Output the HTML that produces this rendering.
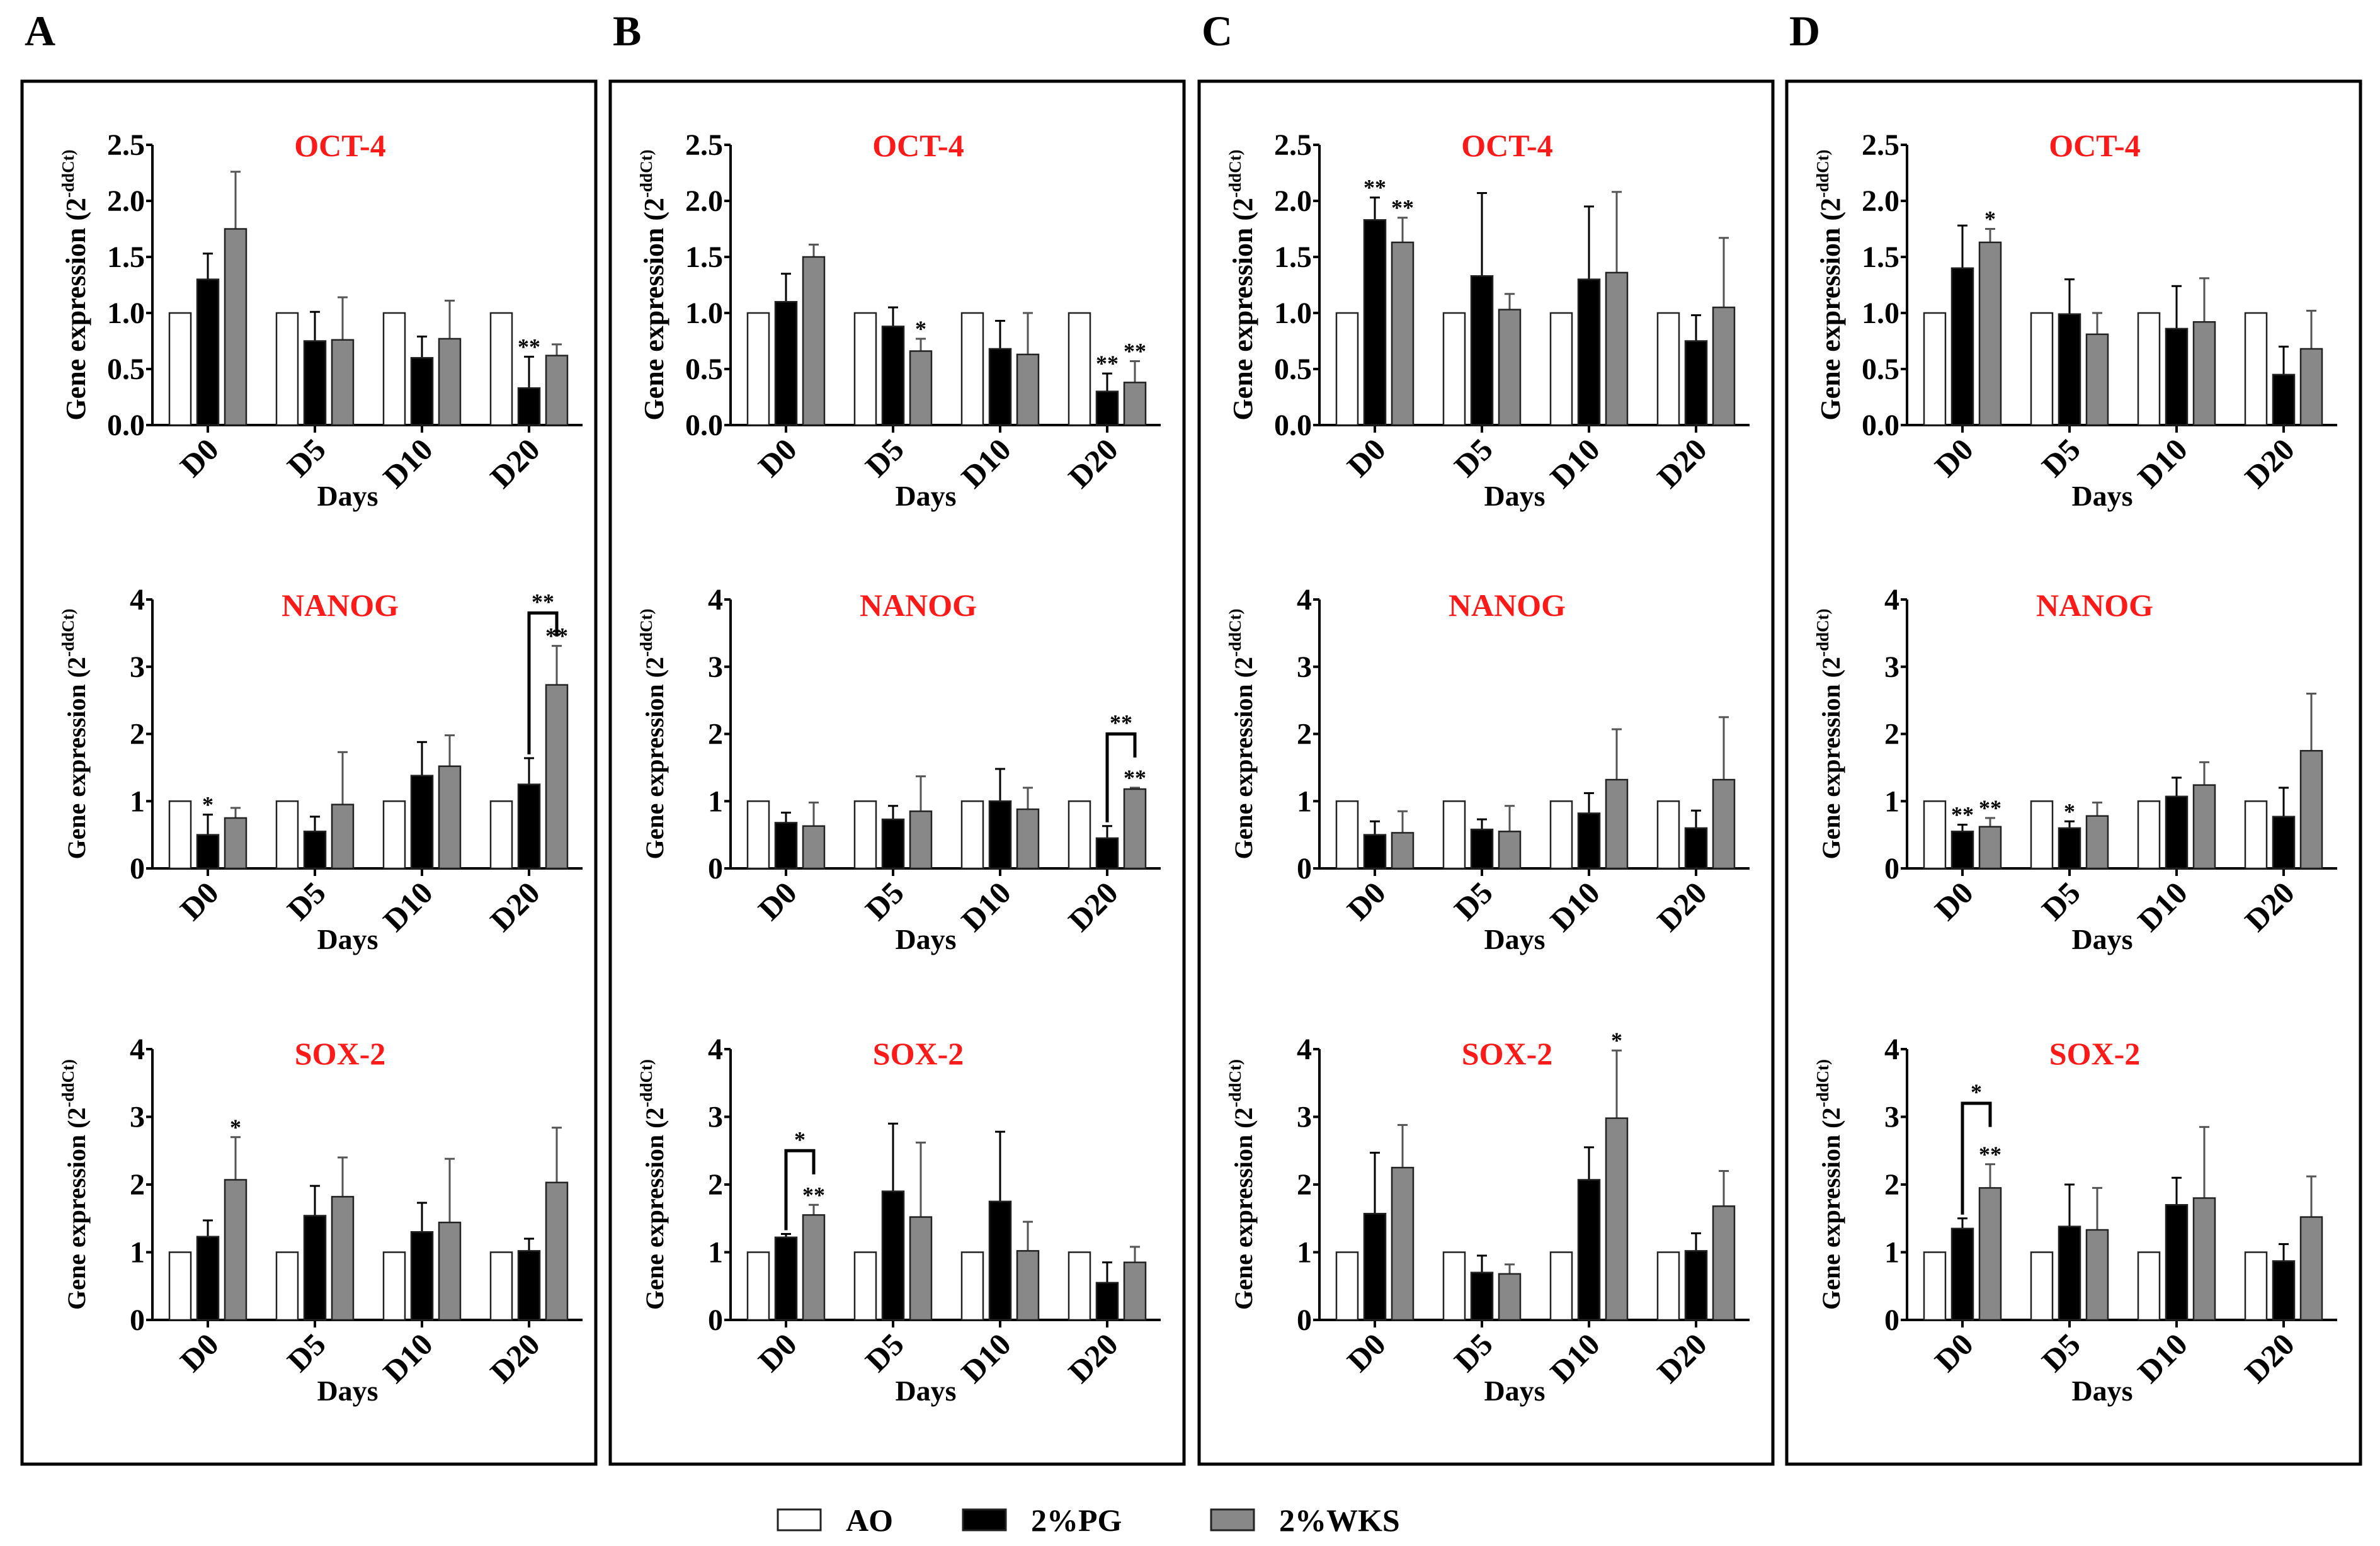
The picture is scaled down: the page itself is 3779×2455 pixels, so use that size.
<!DOCTYPE html>
<html><head><meta charset="utf-8"><style>
html,body{margin:0;padding:0;background:#fff;}
svg{display:block;font-family:"Liberation Serif",serif;font-weight:bold;}
</style></head><body>
<svg id="fig" width="3779" height="2455" viewBox="0 0 3779 2455" xmlns="http://www.w3.org/2000/svg"></svg>
<script>
const categories = ["D0","D5","D10","D20"];
const panelLetters = ["A","B","C","D"];
const genes = ["OCT-4","NANOG","SOX-2"];
const yMaxes = [2.5,4,4];
const oct4Ticks = ["0.0","0.5","1.0","1.5","2.0","2.5"];
const otherTicks = ["0","1","2","3","4"];
const aoValues = [1,1,1,1];
// [panel][gene] values
const pgValues = [
 [[1.3,0.75,0.6,0.33],[0.5,0.55,1.38,1.25],[1.23,1.54,1.3,1.02]],
 [[1.1,0.88,0.68,0.3],[0.68,0.73,1.0,0.45],[1.22,1.9,1.75,0.55]],
 [[1.83,1.33,1.3,0.75],[0.5,0.58,0.82,0.6],[1.57,0.7,2.07,1.02]],
 [[1.4,0.99,0.86,0.45],[0.55,0.6,1.07,0.77],[1.35,1.38,1.7,0.87]]
];
const pgErrTop = [
 [[1.53,1.01,0.79,0.61],[0.8,0.77,1.88,1.64],[1.47,1.98,1.73,1.2]],
 [[1.35,1.05,0.93,0.46],[0.83,0.93,1.48,0.63],[1.27,2.9,2.78,0.85]],
 [[2.03,2.07,1.95,0.98],[0.7,0.73,1.12,0.86],[2.47,0.95,2.55,1.28]],
 [[1.78,1.3,1.24,0.7],[0.65,0.7,1.35,1.2],[1.5,2.0,2.1,1.12]]
];
const wksValues = [
 [[1.75,0.76,0.77,0.62],[0.75,0.95,1.52,2.73],[2.07,1.82,1.44,2.03]],
 [[1.5,0.66,0.63,0.38],[0.63,0.85,0.88,1.18],[1.55,1.52,1.02,0.85]],
 [[1.63,1.03,1.36,1.05],[0.53,0.55,1.32,1.32],[2.25,0.68,2.98,1.68]],
 [[1.63,0.81,0.92,0.68],[0.62,0.78,1.24,1.75],[1.95,1.33,1.8,1.52]]
];
const wksErrTop = [
 [[2.26,1.14,1.11,0.72],[0.9,1.73,1.98,3.31],[2.7,2.4,2.38,2.84]],
 [[1.61,0.77,1.0,0.57],[0.98,1.37,1.2,1.2],[1.7,2.62,1.45,1.08]],
 [[1.85,1.17,2.08,1.67],[0.85,0.93,2.07,2.25],[2.88,0.82,3.98,2.2]],
 [[1.75,1.0,1.31,1.02],[0.75,0.98,1.58,2.6],[2.3,1.95,2.85,2.12]]
];
// significance marks: [panel, gene, category, series(1=PG,2=WKS), label]
const stars = [
 [0,0,3,1,"**"],[0,1,0,1,"*"],[0,1,3,2,"**"],[0,2,0,2,"*"],
 [1,0,1,2,"*"],[1,0,3,1,"**"],[1,0,3,2,"**"],[1,1,3,2,"**"],[1,2,0,2,"**"],
 [2,0,0,1,"**"],[2,0,0,2,"**"],[2,2,2,2,"*"],
 [3,0,0,2,"*"],[3,1,0,1,"**"],[3,1,0,2,"**"],[3,1,1,1,"*"],[3,2,0,2,"**"]
];
// brackets: [panel, gene, category, level, label]
const brackets = [[0,1,3,3.8,"**"],[1,1,3,2.0,"**"],[1,2,0,2.5,"*"],[3,2,0,3.2,"*"]];

const NS="http://www.w3.org/2000/svg";
const svg=document.getElementById('fig');
function mk(tag,attrs,parent,text){const e=document.createElementNS(NS,tag);for(const k in attrs)e.setAttribute(k,attrs[k]);if(text!==undefined)e.textContent=text;(parent||svg).appendChild(e);return e;}

const panelLeft=[35,969,1904,2837];
const panelW=911, frameTop=129, frameBot=2325;
const rowTop=[230,952,1666], rowBot=[675,1379,2096];
const titleY=[248,978,1690];

panelLetters.forEach((L,p)=>{
  const lbl=mk('text',{x:panelLeft[p]+4,y:72,'font-size':68},svg,L);
  
  
  const fr=mk('rect',{x:panelLeft[p],y:frameTop,width:panelW,height:frameBot-frameTop,fill:'none',stroke:'#000','stroke-width':5});
  
  
  const dx = p===0?0:-16;
  genes.forEach((g,r)=>{
    const grp=mk('g',{});
    
    
    const ax=panelLeft[p]+207+dx, axEnd=panelLeft[p]+890+dx;
    const top=rowTop[r], bot=rowBot[r], ymax=yMaxes[r];
    const y=v=>bot-(v/ymax)*(bot-top);
    const cx=i=>ax+88+i*170;
    const ticks=r===0?oct4Ticks:otherTicks;
    const ya=mk('line',{x1:ax,y1:top,x2:ax,y2:bot+2,stroke:'#000','stroke-width':4},grp);
    
    
    const xa=mk('line',{x1:ax-2,y1:bot,x2:axEnd,y2:bot,stroke:'#000','stroke-width':4},grp);
    
    
    ticks.forEach(t=>{
      const v=parseFloat(t);
      mk('line',{x1:ax-10,y1:y(v),x2:ax,y2:y(v),stroke:'#000','stroke-width':4},grp);
      const tl=mk('text',{x:ax-12,y:y(v)+16,'font-size':48,'text-anchor':'end'},grp,t);
      
      
    });
    const yt=mk('text',{transform:`translate(${panelLeft[p]+100+dx},${(top+bot)/2}) rotate(-90)`,'font-size':r===0?44:40,'text-anchor':'middle'},grp);
    
    
    mk('tspan',{},yt,'Gene expression (2');
    mk('tspan',{dy:-18,'font-size':27},yt,'-ddCt)');
    const tt=mk('text',{x:panelLeft[p]+505+dx,y:titleY[r],'font-size':50,'text-anchor':'middle',fill:'#ff1a1a'},grp,g);
    
    
    categories.forEach((c,i)=>{
      const x0=cx(i);
      mk('line',{x1:x0,y1:bot,x2:x0,y2:bot+12,stroke:'#000','stroke-width':4},grp);
      const xl=mk('text',{transform:`translate(${x0+20},${bot+42}) rotate(-45)`,'font-size':50,'text-anchor':'end'},grp,c);
      
      
      const series=[[aoValues[i],null,'#fff','#000'],[pgValues[p][r][i],pgErrTop[p][r][i],'#000','#000'],[wksValues[p][r][i],wksErrTop[p][r][i],'#888','#555']];
      series.forEach((s,k)=>{
        const bx=x0+(k-1)*44-17;
        if(s[1]!==null){
          mk('line',{x1:bx+17,y1:y(s[0]),x2:bx+17,y2:y(s[1]),stroke:s[3],'stroke-width':3},grp);
          mk('line',{x1:bx+9,y1:y(s[1]),x2:bx+25,y2:y(s[1]),stroke:s[3],'stroke-width':3},grp);
        }
        const b=mk('rect',{x:bx,y:y(s[0]),width:34,height:bot-y(s[0]),fill:s[2],stroke:'#222','stroke-width':2.5},grp);
        
        
      });
    });
    stars.filter(s=>s[0]===p&&s[1]===r).forEach(s=>{
      const top2=s[3]===1?pgErrTop[p][r][s[2]]:wksErrTop[p][r][s[2]];
      const st=mk('text',{x:cx(s[2])+(s[3]-1)*44,y:y(top2)-4,'font-size':36,'text-anchor':'middle'},grp,s[4]);
      
      
    });
    brackets.filter(b=>b[0]===p&&b[1]===r).forEach(b=>{
      const i=b[2], xa1=cx(i), xa2=cx(i)+44, ly=y(b[3]);
      const pth=mk('path',{d:`M${xa1},${y(pgErrTop[p][r][i])-6} L${xa1},${ly} L${xa2},${ly} L${xa2},${y(b[3]-0.35)}`,fill:'none',stroke:'#000','stroke-width':5},grp);
      
      
      const bt=mk('text',{x:(xa1+xa2)/2,y:ly-6,'font-size':36,'text-anchor':'middle'},grp,b[4]);
      
      
    });
    const dl=mk('text',{x:panelLeft[p]+517+dx,y:bot+128,'font-size':46,'text-anchor':'middle'},grp,'Days');
    
    
  });
});
const legendNames=["AO","2%PG","2%WKS"];
const legendFills=["#fff","#000","#888"];
const legendX=[1235,1529,1923];
legendNames.forEach((n,k)=>{
  const g=mk('g',{});
  
  
  mk('rect',{x:legendX[k],y:2397,width:68,height:33,fill:legendFills[k],stroke:'#222','stroke-width':3},g);
  mk('text',{x:legendX[k]+108,y:2431,'font-size':50},g,n);
});
</script>
</body></html>
